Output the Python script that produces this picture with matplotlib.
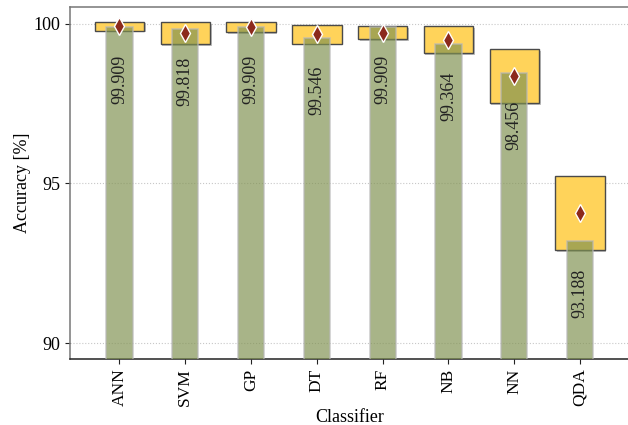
import numpy as np
import matplotlib.pyplot as plt
import matplotlib.patheffects as pe

plt.rcParams["font.family"] = ["Liberation Serif", "DejaVu Serif"]

classifiers = ["ANN", "SVM", "GP", "DT", "RF", "NB", "NN", "QDA"]
best_acc = [99.909, 99.818, 99.909, 99.546, 99.909, 99.364, 98.456, 93.188]
mean_acc = [99.92, 99.70, 99.89, 99.67, 99.72, 99.50, 98.35, 94.07]
std_acc = [0.14, 0.34, 0.16, 0.30, 0.21, 0.43, 0.85, 1.16]

fig = plt.figure(figsize=(6.28, 4.25), dpi=100)
ax = fig.add_axes([0.1115, 0.1553, 0.8909, 0.8282])

x = np.arange(len(classifiers))
mean = np.array(mean_acc)
std = np.array(std_acc)

# mean +/- std boxes with a faint drop shadow
shadow = [pe.SimplePatchShadow(offset=(1.2, -1.2), shadow_rgbFace="#999999", alpha=0.6), pe.Normal()]
boxes = ax.bar(x, 2 * std, bottom=mean - std, width=0.75, color="#ffd35a",
               edgecolor="#4a4a4a", linewidth=1.0, zorder=2)
for b in boxes:
    b.set_path_effects(shadow)

ax.bar(x, best_acc, width=0.4, color="#7f9150", alpha=0.68,
       edgecolor="#b8b8b8", linewidth=1.2, zorder=3)

ax.plot(x, mean, linestyle="none", marker="d", markersize=9,
        markerfacecolor="#8c2a1c", markeredgecolor="white", markeredgewidth=1.0, zorder=4)

for xi, v in zip(x, best_acc):
    ax.annotate(f"{v:.3f}", xy=(xi, v), xytext=(0, -20), textcoords="offset points",
                rotation=90, ha="center", va="top", fontsize=13, color="#222222", zorder=5)

ax.set_xlim(-0.75, len(classifiers) - 0.25)
ax.set_ylim(89.5, 100.52)
ax.set_yticks([90, 95, 100])
ax.set_xticks(x)
ax.set_xticklabels(classifiers, rotation=90, fontsize=12.5)
ax.tick_params(axis="y", labelsize=13, length=3.5, color="#222222")
ax.tick_params(axis="x", length=3.5, color="#222222")
ax.set_xlabel("Classifier", fontsize=13, labelpad=2)
ax.set_ylabel("Accuracy [%]", fontsize=13, labelpad=1.5)

ax.set_axisbelow(True)
ax.yaxis.grid(True, linestyle=":", color="#c8c8c8", linewidth=0.8)
ax.spines["left"].set_color("#777777")
ax.spines["top"].set_color("#777777")
ax.spines["right"].set_visible(False)
ax.spines["bottom"].set_color("#222222")
for s in ax.spines.values():
    s.set_linewidth(1.1)

plt.savefig("out.png", dpi=100)
